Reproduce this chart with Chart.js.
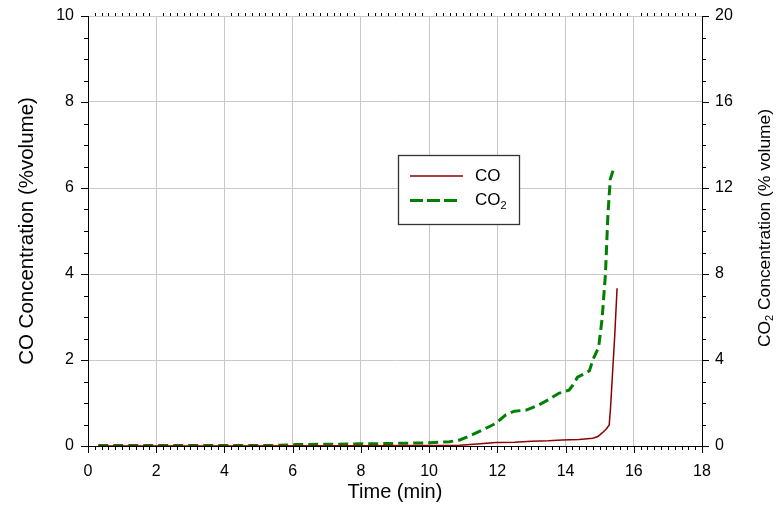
<!DOCTYPE html>
<html>
<head>
<meta charset="utf-8">
<script src="https://cdn.jsdelivr.net/npm/chart.js@4.4.1/dist/chart.umd.min.js"></script>
<style>
html,body{margin:0;padding:0;background:#fff;}
#wrap{position:relative;width:779px;height:506px;}
</style>
</head>
<body>
<div id="wrap"><canvas id="c" width="779" height="506"></canvas></div>
<script>
// ---- data ----
const timeCO  = [0.3, 4, 8, 9.5, 10.9, 11.5, 11.95, 12.5, 13.0, 13.5, 13.9, 14.4, 14.8, 14.95, 15.08, 15.2, 15.28, 15.32, 15.36, 15.44, 15.51];
const coValues = [0, 0, 0.005, 0.01, 0.02, 0.05, 0.08, 0.09, 0.11, 0.12, 0.14, 0.15, 0.18, 0.22, 0.31, 0.4, 0.49, 0.9, 1.46, 2.54, 3.67];
const timeCO2 = [0.3, 2, 4, 5.6, 6.1, 7, 8, 9, 10, 10.6, 10.9, 11.3, 11.7, 11.95, 12.1, 12.25, 12.5, 12.85, 13.2, 13.5, 13.8, 14.1, 14.2, 14.35, 14.6, 14.7, 14.8, 14.97, 15.07, 15.17, 15.24, 15.31, 15.41];
const co2Values = [0.02, 0.02, 0.02, 0.03, 0.07, 0.08, 0.1, 0.12, 0.15, 0.2, 0.28, 0.55, 0.85, 1.05, 1.25, 1.45, 1.62, 1.67, 1.9, 2.15, 2.45, 2.6, 2.8, 3.2, 3.4, 3.5, 4.0, 4.6, 5.9, 8.0, 10.7, 12.4, 12.9];
const seriesNames = ['CO', 'CO2'];
const xTitle = 'Time (min)';
const yTitle = 'CO Concentration (%volume)';
const y2TitleMain = 'CO';
const y2TitleRest = ' Concentration (% volume)';

const FONT = "'Liberation Sans', Arial, sans-serif";
const CO_COLOR = '#8b0000';
const CO2_COLOR = '#008000';

function pts(xs, ys){ return xs.map((x,i)=>({x:x, y:ys[i]})); }
function noPad(s){ s.paddingTop = 0; s.paddingBottom = 0; s.paddingLeft = 0; s.paddingRight = 0; }

const minorTicks = {
  id:'minorTicks',
  afterDraw(chart){
    const ctx = chart.ctx, a = chart.chartArea;
    const x = chart.scales.x, y = chart.scales.y, y2 = chart.scales.y2;
    ctx.save();
    ctx.strokeStyle = '#000'; ctx.lineWidth = 1;
    ctx.beginPath();
    for (let i=0;i<=90;i++){
      const px = Math.round(x.getPixelForValue(i*0.2)) + 0.5;
      const major = i%10===0;
      ctx.moveTo(px, a.bottom); ctx.lineTo(px, a.bottom + (major?7:4));
      if(!major){ ctx.moveTo(px, a.top); ctx.lineTo(px, a.top-3); }
    }
    for (let i=0;i<=20;i++){
      const py = Math.round(y.getPixelForValue(i*0.5)) + 0.5;
      ctx.moveTo(a.left, py); ctx.lineTo(a.left - (i%4===0?7:4), py);
    }
    for (let i=0;i<=20;i++){
      const py = Math.round(y2.getPixelForValue(i)) + 0.5;
      ctx.moveTo(a.right, py); ctx.lineTo(a.right + (i%4===0?7:4), py);
    }
    ctx.stroke();

    // right axis title (reads bottom-to-top)
    ctx.fillStyle = '#000';
    ctx.translate(765, 228);
    ctx.rotate(-Math.PI/2);
    const big = "17.4px " + FONT, small = "11px " + FONT;
    ctx.font = big; const w1 = ctx.measureText(y2TitleMain).width;
    const w3 = ctx.measureText(y2TitleRest).width;
    ctx.font = small; const w2 = ctx.measureText('2').width;
    let sx = -(w1+w2+w3)/2;
    ctx.textBaseline = 'middle'; ctx.textAlign = 'left';
    ctx.font = big; ctx.fillText(y2TitleMain, sx, 0);
    ctx.font = small; ctx.fillText('2', sx+w1, 5);
    ctx.font = big; ctx.fillText(y2TitleRest, sx+w1+w2, 0);
    ctx.restore();
  },
  afterDatasetsDraw(chart){
    const ctx = chart.ctx;
    ctx.save();
    const bx=398.5, by=155.5, bw=121, bh=69;
    ctx.fillStyle='#fff'; ctx.fillRect(bx,by,bw,bh);
    ctx.strokeStyle='#333'; ctx.lineWidth=1.3; ctx.strokeRect(bx,by,bw,bh);
    ctx.lineWidth=1.5; ctx.strokeStyle=CO_COLOR;
    ctx.beginPath(); ctx.moveTo(410,176); ctx.lineTo(463,176); ctx.stroke();
    ctx.lineWidth=3; ctx.strokeStyle=CO2_COLOR; ctx.setLineDash([13,4]);
    ctx.beginPath(); ctx.moveTo(410,200.5); ctx.lineTo(457,200.5); ctx.stroke();
    ctx.setLineDash([]);
    ctx.fillStyle='#000'; ctx.textBaseline='middle'; ctx.textAlign='left';
    ctx.font = "17px " + FONT;
    ctx.fillText(seriesNames[0], 475, 176);
    ctx.fillText('CO', 475, 200);
    const w = ctx.measureText('CO').width;
    ctx.font = "11px " + FONT;
    ctx.fillText('2', 475+w, 206);
    ctx.restore();
  }
};

new Chart(document.getElementById('c'), {
  type:'line',
  data:{
    datasets:[
      {label:seriesNames[0], data:pts(timeCO, coValues), yAxisID:'y', borderColor:CO_COLOR, borderWidth:1.5, pointRadius:0, tension:0, fill:false},
      {label:seriesNames[1], data:pts(timeCO2, co2Values), yAxisID:'y2', borderColor:CO2_COLOR, borderWidth:3, borderDash:[10,5], pointRadius:0, tension:0, fill:false}
    ]
  },
  options:{
    responsive:false, animation:false,
    layout:{padding:{top:16,left:0,right:0,bottom:0}},
    plugins:{legend:{display:false}, tooltip:{enabled:false}},
    scales:{
      x:{type:'linear', position:'bottom', min:0, max:18,
        ticks:{stepSize:2, color:'#000', font:{family:FONT,size:16}, padding:16, maxRotation:0},
        grid:{color:'#c8c8c8', lineWidth:1, drawTicks:false},
        border:{color:'#000', width:1},
        title:{display:true, text:xTitle, color:'#000', font:{family:FONT,size:20}, padding:{top:0,bottom:2}},
        afterFit(s){ s.height = 60; noPad(s); }
      },
      y:{type:'linear', position:'left', min:0, max:10,
        ticks:{stepSize:2, color:'#000', font:{family:FONT,size:16}, padding:14},
        grid:{color:'#c8c8c8', lineWidth:1, drawTicks:false},
        border:{color:'#000', width:1},
        title:{display:true, text:yTitle, color:'#000', font:{family:FONT,size:20.5}, padding:{top:15,bottom:0}},
        afterFit(s){ s.width = 88; noPad(s); }
      },
      y2:{type:'linear', position:'right', min:0, max:20,
        ticks:{stepSize:4, color:'#000', font:{family:FONT,size:16}, padding:13},
        grid:{drawOnChartArea:false, drawTicks:false},
        border:{color:'#000', width:1},
        afterFit(s){ s.width = 77; noPad(s); }
      }
    }
  },
  plugins:[minorTicks]
});
</script>
</body>
</html>
